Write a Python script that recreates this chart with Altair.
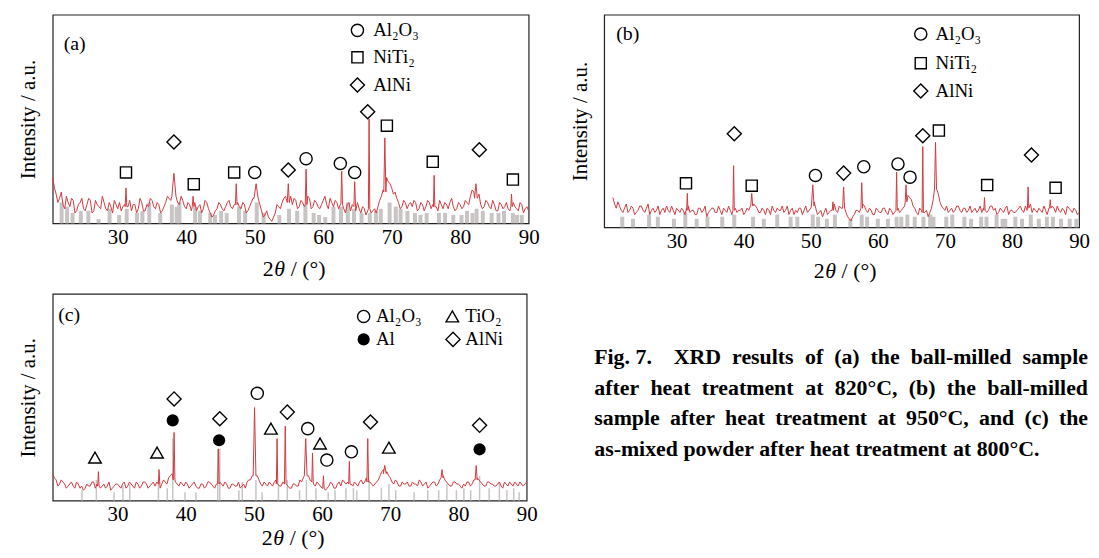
import altair as alt
import numpy as np
import pandas as pd

SERIF = "Liberation Serif"
RED = "#d23a40"
GRAY = "#c9c4c4"
FRAME = "#222222"

# ---------------- data ----------------
GRID_START, GRID_STEP = 20.5, 0.5
X_TICKS = [30, 40, 50, 60, 70, 80, 90]

# panel (a) trace: values at 20.5, 21.0, ... 90.0 and in-between values at 20.75, 21.25, ... 89.75
a_base = [22, 14, 12, 9, 13, 8, 11, 6, 10, 7,
          9, 11, 6, 9, 7, 10, 6, 8, 11, 7,
          6, 9, 8, 6, 9, 7, 10, 6, 8, 11,
          7, 9, 6, 10, 12, 15, 14, 9, 11, 7,
          9, 8, 6, 9, 7, 10, 5, 4, 7, 9,
          6, 10, 8, 9, 10, 7, 9, 6, 10, 14,
          15, 6, 4, 3, 1, 5, 8, 10, 13, 11,
          9, 11, 8, 10, 9, 12, 8, 10, 7, 11,
          9, 12, 8, 10, 9, 7, 9, 6, 8, 10,
          5, 7, 6, 5, 7, 8, 13, 18, 20, 17,
          15, 10, 8, 10, 9, 8, 10, 7, 9, 8,
          10, 9, 8, 11, 7, 9, 10, 8, 7, 9,
          8, 10, 13, 15, 12, 9, 8, 10, 7, 9,
          6, 9, 8, 7, 9, 8, 6, 9, 7, 6]
a_mid = [17, 10, 15, 7, 10, 12, 5, 9, 12, 6,
         12, 5, 11, 8, 13, 7, 10, 5, 9, 10,
         8, 5, 11, 9, 5, 12, 6, 9, 12, 8,
         10, 5, 8, 13, 11, 16, 10, 13, 8, 10,
         6, 10, 8, 5, 11, 7, 3, 6, 10, 7,
         8, 11, 7, 12, 8, 10, 5, 8, 12, 16,
         9, 3, 6, 2, 3, 9, 7, 12, 9, 13,
         12, 7, 11, 8, 13, 7, 11, 8, 9, 13,
         7, 10, 11, 7, 11, 5, 10, 9, 6, 7,
         8, 4, 8, 6, 5, 11, 16, 22, 19, 14,
         12, 7, 11, 7, 10, 11, 6, 10, 6, 11,
         7, 11, 6, 9, 10, 7, 12, 6, 10, 7,
         11, 9, 16, 11, 14, 7, 11, 8, 11, 6,
         10, 7, 10, 6, 10, 7, 10, 5, 8]
a_pk_x = [31.2, 38.2, 41.0, 47.3, 50.2, 54.9, 57.5, 62.7, 64.6, 66.7, 69.0, 76.2, 82.3, 87.5]
a_pk_y = [17, 24, 13, 19, 19, 19, 26, 25, 20, 50, 41, 23, 19, 14]
a_pk_w = [0.12, 0.3, 0.12, 0.12, 0.3, 0.15, 0.12, 0.12, 0.12, 0.1, 0.15, 0.1, 0.2, 0.1]
a_pk_foot = [8, 13, 8, 9, 12, 10, 9, 9, 8, 7, 15, 8, 12, 8]
a_bar_x = [21.8, 22.6, 23.4, 24.6, 25.7, 27.2, 28.8, 30.2, 31.3, 32.8,
           33.6, 34.6, 36.2, 37.9, 38.6, 39.0, 41.3, 42.0, 43.5, 44.2,
           45.1, 45.9, 47.7, 48.6, 50.3, 51.3, 53.6, 55.0, 56.2, 57.4,
           58.6, 59.4, 60.3, 61.5, 62.6, 63.6, 64.5, 65.6, 66.8, 67.7,
           68.4, 69.7, 70.6, 71.3, 72.3, 73.4, 74.2, 75.1, 76.9, 77.8,
           79.0, 80.2, 81.0, 81.8, 82.4, 83.3, 84.6, 85.6, 86.4, 87.7,
           88.3, 89.0]
a_bar_h = [10, 8, 5, 6, 6, 2, 7, 4, 7, 5,
           6, 10, 5, 9, 8, 10, 8, 6, 5, 4,
           6, 5, 8, 6, 10, 5, 4, 7, 6, 9,
           5, 4, 3, 8, 8, 10, 7, 5, 5, 6,
           7, 10, 8, 7, 6, 5, 4, 5, 5, 5,
           4, 4, 6, 5, 7, 6, 5, 5, 6, 5,
           4, 4]
a_mk_x = [31.2, 38.2, 41.1, 47.0, 50.0, 54.9, 57.5, 62.5, 64.6, 66.5, 69.3, 76.0, 82.8, 87.7]
a_mk_y = [24.4, 39, 18.8, 24.4, 24.4, 25.6, 31, 28.7, 24.4, 53.5, 46.8, 29.5, 35.3, 21]
a_mk_ph = ["NiTi2", "AlNi", "NiTi2", "NiTi2", "Al2O3", "AlNi", "Al2O3", "Al2O3",
           "Al2O3", "AlNi", "NiTi2", "NiTi2", "AlNi", "NiTi2"]

# panel (b)
b_base = [14, 9, 10, 7, 11, 8, 9, 7, 10, 8,
          9, 6, 9, 8, 6, 9, 10, 7, 8, 9,
          7, 8, 9, 7, 8, 6, 9, 8, 5, 8,
          9, 7, 8, 9, 7, 8, 10, 7, 8, 6,
          9, 10, 11, 9, 7, 8, 9, 6, 8, 9,
          8, 7, 10, 8, 6, 7, 9, 8, 7, 9,
          12, 6, 8, 7, 6, 8, 11, 7, 9, 11,
          5, 3, 6, 8, 9, 10, 7, 8, 6, 8,
          7, 9, 6, 8, 7, 9, 8, 10, 15, 13,
          9, 6, 8, 7, 5, 9, 20, 16, 10, 8,
          7, 9, 8, 10, 7, 9, 8, 7, 9, 8,
          7, 9, 8, 10, 9, 7, 8, 9, 6, 8,
          7, 9, 8, 10, 9, 7, 8, 9, 7, 8,
          9, 10, 7, 8, 9, 6, 9, 7, 8, 7]
b_mid = [11, 12, 8, 9, 7, 10, 6, 8, 10, 7,
         11, 8, 7, 10, 8, 7, 8, 10, 6, 8,
         9, 6, 10, 8, 6, 9, 7, 10, 7, 9,
         7, 10, 6, 8, 10, 6, 9, 8, 9, 7,
         8, 12, 10, 7, 9, 6, 8, 10, 7, 8,
         10, 8, 6, 9, 8, 9, 6, 10, 8, 7,
         9, 7, 5, 9, 7, 10, 8, 10, 8, 7,
         4, 5, 8, 7, 11, 8, 9, 6, 9, 7,
         9, 7, 9, 6, 10, 7, 9, 13, 14, 10,
         7, 9, 6, 8, 7, 13, 18, 12, 9, 10,
         8, 7, 10, 8, 9, 7, 10, 8, 7, 10,
         9, 7, 10, 8, 6, 9, 7, 10, 8, 7,
         8, 10, 7, 8, 11, 9, 7, 8, 10, 6,
         8, 9, 10, 7, 8, 10, 8, 9, 6]
b_pk_x = [31.6, 38.5, 41.2, 50.3, 53.3, 54.9, 57.6, 62.8, 64.2, 66.7, 68.6, 75.9, 82.4, 85.7]
b_pk_y = [16, 29, 16, 20, 12, 19, 21, 26, 20, 38, 40, 14, 19, 13]
b_pk_w = [0.1, 0.1, 0.15, 0.2, 0.1, 0.15, 0.12, 0.1, 0.12, 0.1, 0.15, 0.1, 0.1, 0.1]
b_pk_foot = [8, 8, 10, 10, 8, 9, 9, 8, 12, 7, 18, 8, 9, 9]
b_bar_x = [21.9, 23.5, 25.9, 27.2, 29.6, 31.3, 33.0, 34.6, 36.8, 38.6,
           41.4, 43.0, 45.0, 47.0, 48.0, 50.3, 51.1, 52.4, 53.6, 55.9,
           57.6, 58.4, 60.0, 61.5, 62.8, 63.5, 64.4, 65.5, 66.8, 67.8,
           68.3, 70.2, 71.1, 72.9, 73.9, 75.4, 76.2, 77.7, 78.6, 79.0,
           80.5, 81.5, 82.8, 84.0, 85.2, 86.1, 87.3, 88.6, 89.6]
b_bar_h = [5, 4, 6, 5, 4, 7, 4, 5, 5, 6,
           5, 4, 6, 5, 5, 6, 5, 4, 6, 4,
           6, 5, 4, 4, 5, 5, 6, 5, 5, 6,
           5, 5, 6, 5, 4, 5, 5, 6, 4, 4,
           5, 4, 6, 4, 5, 5, 4, 4, 4]
b_mk_x = [31.4, 38.6, 41.2, 50.7, 54.9, 57.9, 63.0, 64.8, 66.7, 69.1, 76.3, 82.9, 86.5]
b_mk_y = [20.7, 44, 19.6, 24.4, 25.5, 28.5, 29.8, 23.6, 43.1, 45.5, 19.9, 34, 18.6]
b_mk_ph = ["NiTi2", "AlNi", "NiTi2", "Al2O3", "AlNi", "Al2O3", "Al2O3", "Al2O3",
           "AlNi", "NiTi2", "NiTi2", "AlNi", "NiTi2"]

# panel (c)
c_base = [13, 10, 8, 9, 6, 8, 7, 9, 6, 5,
          8, 7, 9, 8, 6, 8, 7, 5, 7, 8,
          6, 9, 7, 8, 6, 8, 7, 9, 6, 8,
          7, 9, 8, 9, 11, 13, 9, 7, 8, 9,
          6, 8, 7, 6, 8, 7, 9, 7, 8, 9,
          7, 8, 6, 8, 7, 6, 8, 9, 10, 14,
          12, 8, 9, 7, 8, 9, 8, 7, 9, 7,
          6, 8, 7, 9, 15, 12, 9, 7, 8, 6,
          5, 7, 8, 6, 9, 10, 8, 10, 7, 8,
          9, 8, 11, 9, 7, 9, 12, 15, 14, 11,
          8, 9, 7, 8, 9, 7, 8, 7, 9, 8,
          6, 8, 9, 8, 13, 10, 8, 7, 9, 8,
          6, 7, 9, 8, 12, 10, 8, 7, 9, 8,
          7, 9, 6, 8, 9, 7, 8, 9, 7, 9]
c_mid = [11, 7, 10, 8, 7, 9, 6, 8, 7, 6,
         7, 9, 6, 10, 7, 6, 9, 6, 8, 7,
         8, 6, 9, 7, 9, 6, 9, 8, 7, 9,
         9, 6, 10, 8, 12, 11, 8, 9, 7, 8,
         7, 9, 6, 8, 6, 9, 8, 6, 10, 8,
         9, 6, 8, 7, 9, 7, 6, 10, 12, 11,
         10, 7, 8, 9, 7, 10, 7, 9, 8, 6,
         8, 7, 10, 11, 13, 10, 8, 9, 7, 8,
         6, 9, 6, 8, 7, 9, 9, 8, 9, 7,
         10, 9, 10, 8, 8, 10, 14, 16, 12, 9,
         10, 7, 9, 8, 7, 9, 8, 10, 7, 9,
         7, 9, 7, 10, 12, 9, 7, 9, 8, 7,
         8, 9, 7, 10, 11, 9, 7, 9, 8, 7,
         8, 7, 9, 7, 8, 9, 7, 8, 8]
c_pk_x = [27.2, 36.1, 38.3, 44.8, 50.1, 53.4, 54.6, 57.6, 58.6, 60.2, 64.0, 66.7, 69.2, 77.6, 82.6]
c_pk_y = [14, 15, 33, 25, 45, 30, 36, 30, 23, 12, 19, 30, 17, 15, 17]
c_pk_w = [0.1, 0.1, 0.12, 0.1, 0.2, 0.1, 0.12, 0.2, 0.1, 0.1, 0.1, 0.12, 0.2, 0.15, 0.15]
c_pk_foot = [7, 8, 10, 8, 12, 8, 8, 12, 9, 6, 8, 9, 13, 11, 10]
c_bar_x = [24.8, 26.9, 29.5, 30.8, 31.8, 36.0, 37.3, 38.1, 39.9, 41.5,
           44.7, 45.0, 47.8, 48.3, 50.3, 51.2, 53.6, 54.9, 56.7, 57.7,
           59.1, 60.9, 61.9, 63.5, 64.6, 65.1, 66.9, 68.7, 69.8, 70.8,
           73.5, 75.5, 77.1, 78.3, 79.7, 80.8, 81.8, 83.1, 84.5, 86.0,
           87.1, 88.1, 88.9]
c_bar_h = [5, 10, 4, 7, 8, 10, 6, 30, 4, 4,
           25, 25, 5, 9, 10, 4, 8, 10, 5, 10,
           6, 4, 5, 6, 6, 5, 10, 6, 8, 5,
           4, 5, 5, 8, 5, 6, 5, 12, 6, 9,
           5, 6, 4]
c_mk_x = [26.7, 35.8, 38.1, 38.3, 44.9, 45.0, 50.5, 52.5, 54.9, 57.9, 59.7, 60.7,
          64.3, 67.1, 69.8, 83.1, 83.1]
c_mk_y = [20.8, 23.2, 38.8, 49.2, 29.2, 39.6, 51.9, 34.8, 42.8, 34.8, 27.6, 19.6,
          23.6, 38, 25.6, 36.4, 24.8]
c_mk_ph = ["TiO2", "TiO2", "Al", "AlNi", "Al", "AlNi", "Al2O3", "TiO2", "AlNi",
           "Al2O3", "TiO2", "Al2O3", "Al2O3", "AlNi", "TiO2", "AlNi", "Al"]

PHASE_LABEL = {"Al2O3": "Al₂O₃", "NiTi2": "NiTi₂", "AlNi": "AlNi", "TiO2": "TiO₂", "Al": "Al"}
a_legend = ["Al2O3", "NiTi2", "AlNi"]
b_legend = ["Al2O3", "NiTi2", "AlNi"]
c_legend = ["Al2O3", "TiO2", "Al", "AlNi"]

Y_TITLE = "Intensity / a.u."
CAPTION = [
    "Fig.\u00a07.\u00a0\u00a0 XRD results of (a) the ball-milled sample",
    "after heat treatment at 820°C, (b) the ball-milled",
    "sample after heat treatment at 950°C, and (c) the",
    "as-mixed powder after heat treatment at 800°C.",
]

# ---------------- styles / layout ----------------
SHAPE = {"Al2O3": ("circle", False), "NiTi2": ("square", False), "AlNi": ("diamond", False),
         "TiO2": ("triangle-up", False), "Al": ("circle", True)}
SIZE = {"circle": 150, "square": 125, "diamond": 200, "triangle-up": 160}

# Times/Liberation Serif Bold advance widths (per 1000 em) used to justify the caption
BOLD_W = {" ": 250, "\u00a0": 250, "(": 333, ")": 333, ",": 250, "-": 333, ".": 250, "°": 400,
          "C": 722, "D": 722, "F": 611, "R": 722, "X": 722,
          "a": 500, "b": 556, "c": 444, "d": 556, "e": 444, "f": 333, "g": 500, "h": 556,
          "i": 278, "l": 278, "m": 833, "n": 556, "o": 500, "p": 556, "r": 444, "s": 389,
          "t": 333, "u": 556, "w": 722, "x": 500, "y": 500}
CAP_FS = 22
CAP_WIDTH = 497
CAP_X0 = -10


def text_w(s, fs):
    return sum(BOLD_W.get(ch, 500) for ch in s) * fs / 1000.0


def trace_df(base, mid, pk_x, pk_y, pk_w, pk_foot):
    gx = GRID_START + GRID_STEP * np.arange(len(base))
    mx = GRID_START + GRID_STEP / 2 + GRID_STEP * np.arange(len(mid))
    pts = list(zip(gx, base)) + list(zip(mx, mid))
    rows = []
    for x, y in pts:
        if all(abs(x - p) > w for p, w in zip(pk_x, pk_w)):
            rows.append((float(x), y))
    for p, y, w, f in zip(pk_x, pk_y, pk_w, pk_foot):
        rows += [(p - w, f), (p, y), (p + w, f)]
    return pd.DataFrame(rows, columns=["x", "y"]).sort_values("x").reset_index(drop=True)


def panel(tag, w, h, xdom, base, mid, pk, bar_x, bar_h, bar_w, mk_x, mk_y, mk_ph,
          legend, legend_pos, tag_pos, xtitle_dy):
    xs = alt.Scale(domain=xdom, nice=False, zero=False)
    ys = alt.Scale(domain=[0, 100], nice=False, zero=False)
    xax = alt.Axis(values=X_TICKS, title=None, grid=False, ticks=False, domain=False,
                   labelFont=SERIF, labelFontSize=21, labelColor="black", labelPadding=3,
                   labelFlush=False, format="d")
    yax = alt.Axis(title=Y_TITLE, labels=False, ticks=False, domain=False, grid=False,
                   titleFont=SERIF, titleFontSize=21, titleFontWeight="normal",
                   titleColor="black", titlePadding=14)

    def X(f):
        return alt.X(f, type="quantitative", scale=xs, axis=xax)

    def Y(f):
        return alt.Y(f, type="quantitative", scale=ys, axis=yax)

    def XD(v):
        return alt.XDatum(v, scale=xs, axis=xax)

    def YD(v):
        return alt.YDatum(v, scale=ys, axis=yax)

    one = pd.DataFrame({"d": [0]})
    layers = []
    bars = pd.DataFrame({"x": bar_x, "h": bar_h})
    layers.append(alt.Chart(bars).mark_rule(color=GRAY, strokeWidth=bar_w)
                  .encode(x=X("x"), y=Y("h"), y2=alt.datum(0)))
    layers.append(alt.Chart(trace_df(base, mid, *pk)).mark_line(color=RED, strokeWidth=1)
                  .encode(x=X("x"), y=Y("y")))
    mk = pd.DataFrame({"x": mk_x, "y": mk_y, "ph": mk_ph})
    for ph in dict.fromkeys(mk_ph):
        shp, filled = SHAPE[ph]
        layers.append(alt.Chart(mk[mk.ph == ph]).mark_point(
            shape=shp, filled=filled, size=SIZE[shp], color="black", strokeWidth=1.4, opacity=1)
            .encode(x=X("x"), y=Y("y")))
    for ph, (mx, my, tx) in zip(legend, legend_pos):
        shp, filled = SHAPE[ph]
        layers.append(alt.Chart(one).mark_point(
            shape=shp, filled=filled, size=SIZE[shp], color="black", strokeWidth=1.4, opacity=1)
            .encode(x=XD(mx), y=YD(my)))
        layers.append(alt.Chart(one).mark_text(align="left", baseline="middle", font=SERIF,
                                               fontSize=19, color="black")
                      .encode(x=XD(tx), y=YD(my), text=alt.value(PHASE_LABEL[ph])))
    layers.append(alt.Chart(one).mark_text(align="left", baseline="middle", font=SERIF,
                                           fontSize=20, color="black")
                  .encode(x=XD(tag_pos[0]), y=YD(tag_pos[1]), text=alt.value(tag)))
    ty = h + xtitle_dy
    for txt, dx, style in [("2", -28, "normal"), ("θ", -16.5, "italic"), ("/ (°)", 0, "normal")]:
        layers.append(alt.Chart(one).mark_text(align="left", baseline="middle", font=SERIF,
                                               fontSize=22, fontStyle=style, color="black")
                      .encode(x=alt.value(w / 2 + dx), y=alt.value(ty), text=alt.value(txt)))
    return alt.layer(*layers).properties(width=w, height=h)


A = panel("(a)", 479, 210, [20.5, 90], a_base, a_mid, (a_pk_x, a_pk_y, a_pk_w, a_pk_foot),
          a_bar_x, a_bar_h, 4, a_mk_x, a_mk_y, a_mk_ph, a_legend,
          [(65.0, 92.5, 67.3), (65.0, 79.6, 67.3), (65.0, 66.3, 67.3)], (22.1, 86), 46)
B = panel("(b)", 478, 214, [19.2, 90], b_base, b_mid, (b_pk_x, b_pk_y, b_pk_w, b_pk_foot),
          b_bar_x, b_bar_h, 4, b_mk_x, b_mk_y, b_mk_ph, b_legend,
          [(66.4, 90.9, 68.6), (66.4, 77.2, 68.6), (66.4, 64.1, 68.6)], (21.0, 90.9), 44)
C = panel("(c)", 477, 208, [20.5, 90], c_base, c_mid, (c_pk_x, c_pk_y, c_pk_w, c_pk_foot),
          c_bar_x, c_bar_h, 1.5, c_mk_x, c_mk_y, c_mk_ph, c_legend,
          [(66.1, 89.1, 67.9), (79.1, 89.1, 81.0), (66.1, 78, 67.9), (79.2, 78, 81.0)],
          (21.3, 90), 38)

# caption: each word placed so that every line but the last is justified to CAP_WIDTH
cap_layers = []
for i, line in enumerate(CAPTION):
    words = line.split(" ")
    nat = sum(text_w(wd, CAP_FS) for wd in words)
    last_line = i == len(CAPTION) - 1
    gap = text_w(" ", CAP_FS) if last_line else (CAP_WIDTH - nat) / (len(words) - 1)
    x = 0.0
    for k, wd in enumerate(words):
        right = (not last_line) and k == len(words) - 1
        cap_layers.append(alt.Chart(pd.DataFrame({"t": [wd]})).mark_text(
            align="right" if right else "left", baseline="middle", font=SERIF, fontSize=CAP_FS,
            fontWeight="bold", color="black")
            .encode(x=alt.value(CAP_X0 + (CAP_WIDTH if right else round(x, 2))),
                    y=alt.value(64 + 30.7 * i), text="t:N"))
        x += text_w(wd, CAP_FS) + gap
CAP = alt.layer(*cap_layers).properties(width=470, height=208,
                                         view=alt.ViewBackground(stroke="transparent"))

chart = alt.concat(
    A, B, C, CAP, columns=2, bounds="flush",
    spacing=alt.RowColnumber(row=67, column=76),
).properties(
    padding={"left": 9, "top": 4, "right": 0, "bottom": 0}
).configure_view(stroke=FRAME, strokeWidth=1.2)

chart.save("out.html", embed_options={"renderer": "svg", "actions": False})
